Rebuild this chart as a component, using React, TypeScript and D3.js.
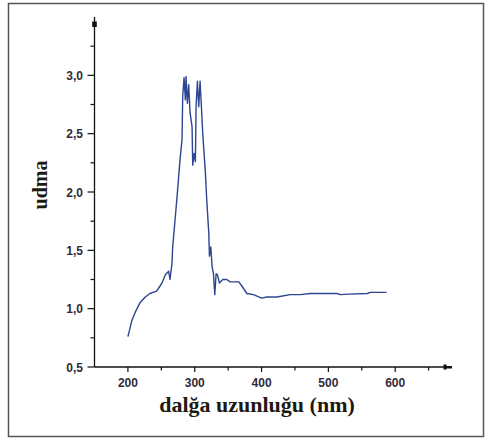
import React from 'react';
import { scaleLinear, line } from 'd3';

// wavelength (nm) and absorbance
const wavelength = [
  200, 206, 211, 218, 226, 233, 243, 251, 256, 261, 263, 266, 267, 271, 274, 278,
  281, 282, 284, 286, 287, 289, 291, 293, 296, 297, 299, 301, 302, 304, 306, 308,
  310, 312, 316, 318, 321, 322, 324, 326, 328, 330, 332, 334, 337, 342, 348, 353,
  361, 366, 371, 378, 388, 400, 408, 423, 443, 458, 473, 513, 518, 530, 558, 563, 587
];
const absorbance = [
  0.76, 0.9, 0.97, 1.05, 1.1, 1.13, 1.15, 1.22, 1.29, 1.32, 1.25, 1.39, 1.53, 1.79, 1.99, 2.28,
  2.45, 2.82, 2.98, 2.79, 2.99, 2.76, 2.92, 2.68, 2.56, 2.23, 2.33, 2.26, 2.73, 2.95, 2.73, 2.95,
  2.73, 2.5, 2.16, 1.93, 1.65, 1.45, 1.53, 1.36, 1.3, 1.12, 1.3, 1.29, 1.22, 1.25, 1.25, 1.23,
  1.23, 1.23, 1.19, 1.13, 1.12, 1.09, 1.1, 1.1, 1.12, 1.12, 1.13, 1.13, 1.12, 1.125, 1.13, 1.14, 1.14
];

const xMajor = [200, 300, 400, 500, 600];
const xMinor = [250, 350, 450, 550, 650];
const yMajor = [0.5, 1.0, 1.5, 2.0, 2.5, 3.0];
const yMinor = [0.75, 1.25, 1.75, 2.25, 2.75, 3.25];

const xTitle = 'dalğa uzunluğu (nm)';
const yTitle = 'udma';

const W = 485;
const H = 439;

const App = () => {
  const x = scaleLinear().domain([150, 685]).range([94.5, 452]);
  const y = scaleLinear().domain([0.5, 3.5]).range([367, 17]);

  const pts = wavelength.map((w, i) => [w, absorbance[i]] as [number, number]);
  const path = line<[number, number]>()
    .x(d => x(d[0]))
    .y(d => y(d[1]))(pts);

  const x0 = x(150);
  const y0 = y(0.5);
  const tickFont = { fontFamily: 'Liberation Sans, Arial, sans-serif', fontWeight: 'bold' as const, fontSize: 12 };

  return (
    <svg width={W} height={H} style={{ position: 'absolute', left: 0, top: 0, background: '#fff' }}>
      <rect x={8.5} y={3.5} width={475} height={433} fill="none" stroke="#555" strokeWidth={1.5} />

      {/* axes */}
      <line x1={x0} y1={y0} x2={x0} y2={y(3.5)} stroke="#111" strokeWidth={1.3} />
      <rect x={x0 - 2.3} y={21.5} width={4.6} height={5.5} fill="#111" />
      <line x1={x0} y1={y0} x2={x(685)} y2={y0} stroke="#111" strokeWidth={1.3} />
      <rect x={443.5} y={364.5} width={3} height={5} fill="#111" />
      <rect x={446} y={366} width={6} height={2.5} fill="#111" />

      {yMajor.map(v => (
        <g key={'ym' + v}>
          <line x1={x0 - 7} x2={x0} y1={y(v)} y2={y(v)} stroke="#111" strokeWidth={1.2} />
          <text x={83} y={y(v) + 4.5} textAnchor="end" fill="#302b3a" {...tickFont}>
            {v.toFixed(1).replace('.', ',')}
          </text>
        </g>
      ))}
      {yMinor.map(v => (
        <line key={'yn' + v} x1={x0 - 4} x2={x0} y1={y(v)} y2={y(v)} stroke="#111" strokeWidth={1.2} />
      ))}
      {xMajor.map(v => (
        <g key={'xm' + v}>
          <line x1={x(v)} x2={x(v)} y1={y0} y2={y0 + 5} stroke="#111" strokeWidth={1.2} />
          <text x={x(v)} y={387} textAnchor="middle" fill="#302b3a" {...tickFont}>{v}</text>
        </g>
      ))}
      {xMinor.map(v => (
        <line key={'xn' + v} x1={x(v)} x2={x(v)} y1={y0} y2={y0 + 3.5} stroke="#111" strokeWidth={1.2} />
      ))}

      <path d={path || ''} fill="none" stroke="#2e4592" strokeWidth={1.4} strokeLinejoin="round" />

      <text x={257} y={412} textAnchor="middle" fill="#1e1a12"
        style={{ fontFamily: 'Liberation Serif, Times New Roman, serif', fontWeight: 'bold', fontSize: 22 }}>
        {xTitle}
      </text>
      <text transform="translate(47,185) rotate(-90)" textAnchor="middle" fill="#1e1a12"
        style={{ fontFamily: 'Liberation Serif, Times New Roman, serif', fontWeight: 'bold', fontSize: 20 }}>
        {yTitle}
      </text>
    </svg>
  );
};

export default App;
